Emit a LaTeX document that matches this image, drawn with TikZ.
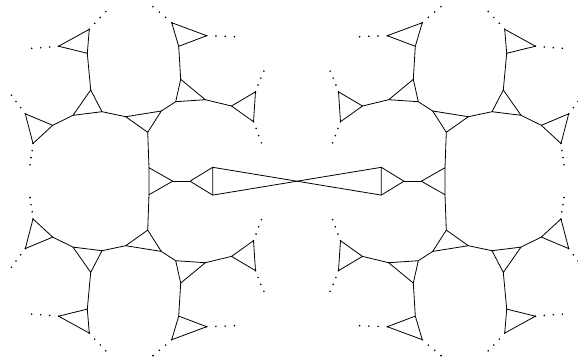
\documentclass[tikz,border=0pt]{standalone}
\tikzset{
  edge/.style={line width=0.8pt, line join=round, line cap=round},
  dotmark/.style={fill=black},
}
\newcommand\drawquarter[1]{%
  \coordinate (#1A1) at (89.3,29.3);
  \coordinate (#1A2) at (58.6,46.2);
  \coordinate (#1A3) at (87.3,53.3);
  \coordinate (#1B1) at (90.7,90);
  \coordinate (#1B2) at (73,115.3);
  \coordinate (#1B3) at (102,111.7);
  \coordinate (#1C1) at (52.7,125.3);
  \coordinate (#1C2) at (25.3,113.8);
  \coordinate (#1C3) at (33,143.5);
  \coordinate (#1D1) at (125.7,116.7);
  \coordinate (#1D2) at (161.3,111);
  \coordinate (#1D3) at (147.7,132.3);
  \coordinate (#1E1) at (175.7,101.7);
  \coordinate (#1E2) at (180.7,79.3);
  \coordinate (#1E3) at (205.3,99.7);
  \coordinate (#1F1) at (178.7,46.3);
  \coordinate (#1F2) at (171.7,22.7);
  \coordinate (#1F3) at (206.7,35.7);
  \coordinate (#1G1) at (231.5,106);
  \coordinate (#1G2) at (255.5,91.8);
  \coordinate (#1G3) at (253.5,121.7);
  \coordinate (#1H1) at (149,167.7);
  \coordinate (#1I2) at (212.7,167.3);
  % triangles
  \draw[edge] (#1A1) -- (#1A2) -- (#1A3) -- cycle;
  \draw[edge] (#1B1) -- (#1B2) -- (#1B3) -- cycle;
  \draw[edge] (#1C1) -- (#1C2) -- (#1C3) -- cycle;
  \draw[edge] (#1D1) -- (#1D2) -- (#1D3) -- cycle;
  \draw[edge] (#1E1) -- (#1E2) -- (#1E3) -- cycle;
  \draw[edge] (#1F1) -- (#1F2) -- (#1F3) -- cycle;
  \draw[edge] (#1G1) -- (#1G2) -- (#1G3) -- cycle;
  % links
  \draw[edge] (#1A3) -- (#1B1);
  \draw[edge] (#1B2) -- (#1C1);
  \draw[edge] (#1B3) -- (#1D1);
  \draw[edge] (#1D2) -- (#1E1);
  \draw[edge] (#1E2) -- (#1F1);
  \draw[edge] (#1E3) -- (#1G1);
  \draw[edge] (#1D3) -- (#1H1);
  % vertex marks
  \foreach \v in {A1,A2,C2,C3,F2,F3,G2,G3} \fill[dotmark] (#1\v) circle (0.9pt);
  % dots
  \foreach \x/\y in {49.7/47, 40.7/47.7, 31.7/48.3,
                     94.7/23.3, 100.2/17.4, 105.8/11.6,
                     20.7/107.6, 16/101.4, 11.5/95.2,
                     32.2/150.6, 31/157.6, 30/164.8,
                     165.7/17.3, 159.3/12.1, 153/6.8,
                     215.9/36, 225.2/36.3, 234.4/36.7,
                     258.1/85, 260.8/78.1, 263.9/71.1,
                     256.1/128.4, 258.7/135.6, 261.4/142.8}
    \fill[dotmark] (\x,\y) circle (0.9pt);
}
\begin{document}
\begin{tikzpicture}[x=1pt,y=-1pt]
  \useasboundingbox (0,0) rectangle (578,360);
  \begin{scope}
    \drawquarter{tl}
  \end{scope}
  \begin{scope}[shift={(594,0)},xscale=-1]
    \drawquarter{tr}
  \end{scope}
  \begin{scope}[shift={(0,362.4)},yscale=-1]
    \drawquarter{bl}
  \end{scope}
  \begin{scope}[shift={(594,362.4)},xscale=-1,yscale=-1]
    \drawquarter{br}
  \end{scope}
  % centre
  \coordinate (hL) at (172.7,181.2);
  \coordinate (iL) at (190,181.2);
  \coordinate (iR) at (404,181.2);
  \coordinate (hR) at (421.3,181.2);
  \draw[edge] (tlH1) -- (hL) -- (blH1) -- cycle;
  \draw[edge] (hL) -- (iL);
  \draw[edge] (iL) -- (tlI2) -- (blI2) -- cycle;
  \draw[edge] (tlI2) -- (brI2);
  \draw[edge] (blI2) -- (trI2);
  \draw[edge] (iR) -- (trI2) -- (brI2) -- cycle;
  \draw[edge] (iR) -- (hR);
  \draw[edge] (hR) -- (trH1) -- (brH1) -- cycle;
\end{tikzpicture}
\end{document}
